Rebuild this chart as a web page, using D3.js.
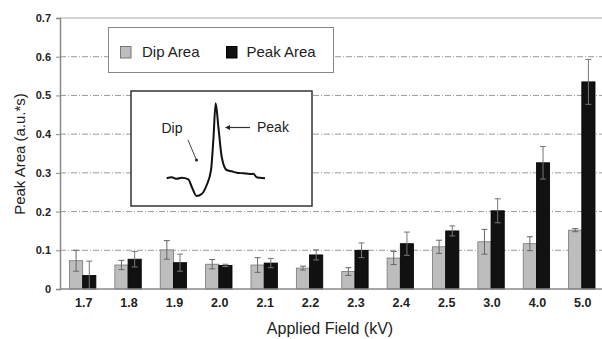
<!DOCTYPE html>
<html>
<head>
<meta charset="utf-8">
<script src="https://cdn.jsdelivr.net/npm/d3@7"></script>
<style>
  html, body { margin: 0; padding: 0; background: #fff; }
  svg { display: block; font-family: Arial, "Liberation Sans", Helvetica, sans-serif; }
</style>
</head>
<body>
<svg id="chart" width="602" height="339"></svg>
<script>
// ---- data ----
const categories = ["1.7","1.8","1.9","2.0","2.1","2.2","2.3","2.4","2.5","3.0","4.0","5.0"];
const dipArea   = [0.073,0.062,0.101,0.064,0.062,0.054,0.045,0.080,0.109,0.122,0.117,0.152];
const dipErr    = [0.027,0.012,0.024,0.012,0.019,0.005,0.010,0.017,0.017,0.032,0.018,0.004];
const peakArea  = [0.035,0.077,0.068,0.061,0.067,0.088,0.100,0.117,0.150,0.202,0.326,0.535];
const peakErr   = [0.037,0.020,0.022,0.003,0.012,0.013,0.019,0.030,0.013,0.031,0.042,0.058];
const yTicks    = [0,0.1,0.2,0.3,0.4,0.5,0.6,0.7];
const seriesNames = ["Dip Area","Peak Area"];
// inset trace (arbitrary time units, relative signal)
const insetTime   = [0,1.5,3,4.5,6.5,7.5,9,10.5,12,13.3,14,14.7,15.5,16.5,18,19.5,21,23,25,26,27,28,29.5];
const insetSignal = [0,0.1,-0.05,0.05,-0.1,-0.84,-1.77,-1.57,-0.67,0.83,3.83,7.5,5.16,2.16,0.83,0.7,0.56,0.5,0.43,0.45,0.1,0.05,0];

// ---- layout ----
const svg = d3.select("#chart");
const x0 = 60, x1 = 604.5, yTop = 18, yBot = 289;

const x = d3.scaleBand().domain(categories).range([x0, x1]).padding(0);
const y = d3.scaleLinear().domain([0, 0.7]).range([yBot, yTop]);
const barW = 13.2;

// gridlines
svg.append("g").selectAll("line")
  .data(yTicks.filter(t => t > 0 && t < 0.7))
  .join("line")
  .attr("x1", x0).attr("x2", 602)
  .attr("y1", d => y(d)).attr("y2", d => y(d))
  .attr("stroke", "#9a9a9a").attr("stroke-width", 1)
  .attr("stroke-dasharray", "6,2,1,2");

// top border line
svg.append("line").attr("x1", x0).attr("x2", 602)
  .attr("y1", y(0.7)).attr("y2", y(0.7))
  .attr("stroke", "#aaa").attr("stroke-width", 1.2);

// y axis
const yAxis = d3.axisLeft(y).tickValues(yTicks)
  .tickFormat(d => d === 0 ? "0" : d3.format(".1f")(d))
  .tickSize(4).tickPadding(5);
const gy = svg.append("g").attr("transform", `translate(${x0},0)`).call(yAxis);
gy.select(".domain").attr("stroke", "#888").attr("stroke-width", 1.5);
gy.selectAll(".tick line").attr("stroke", "#888");
gy.selectAll(".tick text").attr("font-size", 11).attr("font-weight", "bold")
  .attr("fill", "#222").attr("font-family", "Arial, 'Liberation Sans', sans-serif");

// bars
const gBars = svg.append("g");
categories.forEach((c, i) => {
  const cx = x(c) + x.bandwidth() / 2;
  gBars.append("rect")
    .attr("x", cx - barW).attr("width", barW)
    .attr("y", y(dipArea[i])).attr("height", y(0) - y(dipArea[i]))
    .attr("fill", "#bdbdbd").attr("stroke", "#777").attr("stroke-width", 0.8);
  gBars.append("rect")
    .attr("x", cx).attr("width", barW)
    .attr("y", y(peakArea[i])).attr("height", y(0) - y(peakArea[i]))
    .attr("fill", "#111").attr("stroke", "#000").attr("stroke-width", 0.8);
});

// error bars
const gErr = svg.append("g");
function errBar(cx, v, e, color) {
  const yt = y(v + e), yb = y(Math.max(0, v - e));
  gErr.append("line").attr("x1", cx).attr("x2", cx).attr("y1", yt).attr("y2", yb)
    .attr("stroke", color).attr("stroke-width", 1);
  [yt, yb].forEach(yy => gErr.append("line")
    .attr("x1", cx - 3).attr("x2", cx + 3).attr("y1", yy).attr("y2", yy)
    .attr("stroke", color).attr("stroke-width", 1));
}
categories.forEach((c, i) => {
  const cx = x(c) + x.bandwidth() / 2;
  errBar(cx - barW / 2, dipArea[i], dipErr[i], "#666");
  errBar(cx + barW / 2, peakArea[i], peakErr[i], "#777");
});

// x axis line
svg.append("line").attr("x1", x0).attr("x2", 602)
  .attr("y1", yBot).attr("y2", yBot)
  .attr("stroke", "#888").attr("stroke-width", 1.5);

// x tick labels
svg.append("g").selectAll("text").data(categories).join("text")
  .attr("x", d => x(d) + x.bandwidth() / 2 + 1)
  .attr("y", 307)
  .attr("text-anchor", "middle")
  .attr("font-size", 12.5).attr("font-weight", "bold").attr("fill", "#222")
  .text(d => d);

// axis titles
svg.append("text").attr("x", 330).attr("y", 334).attr("text-anchor", "middle")
  .attr("font-size", 16).attr("fill", "#222").text("Applied Field (kV)");
svg.append("text").attr("transform", "translate(25,154) rotate(-90)")
  .attr("text-anchor", "middle").attr("font-size", 15).attr("fill", "#222")
  .text("Peak Area (a.u.*s)");

// legend
const lg = svg.append("g");
lg.append("rect").attr("x", 108.5).attr("y", 27.5).attr("width", 225).attr("height", 45)
  .attr("fill", "#fff").attr("stroke", "#888").attr("stroke-width", 1);
const legendItems = [
  {name: seriesNames[0], fill: "#bdbdbd", stroke: "#777", sx: 120.5, tx: 142},
  {name: seriesNames[1], fill: "#111", stroke: "#000", sx: 226.5, tx: 246.5}
];
legendItems.forEach(it => {
  lg.append("rect").attr("x", it.sx).attr("y", 46.5).attr("width", 10.5).attr("height", 11.5)
    .attr("fill", it.fill).attr("stroke", it.stroke).attr("stroke-width", 1);
  lg.append("text").attr("x", it.tx).attr("y", 57).attr("font-size", 15).attr("fill", "#222")
    .text(it.name);
});

// inset
const ig = svg.append("g");
ig.append("rect").attr("x", 131).attr("y", 91).attr("width", 181).attr("height", 115)
  .attr("fill", "#fff").attr("stroke", "#333").attr("stroke-width", 1.5);
const ix = d3.scaleLinear().domain([0, 29.5]).range([166.7, 265]);
const iy = d3.scaleLinear().domain([0, 7.5]).range([178.3, 103.3]);
ig.append("path")
  .datum(insetTime.map((t, i) => [t, insetSignal[i]]))
  .attr("d", d3.line().x(d => ix(d[0])).y(d => iy(d[1])).curve(d3.curveMonotoneX))
  .attr("fill", "none").attr("stroke", "#111").attr("stroke-width", 2);
ig.append("text").attr("x", 172).attr("y", 133).attr("text-anchor", "middle")
  .attr("font-size", 14).attr("fill", "#222").text("Dip");
ig.append("text").attr("x", 257).attr("y", 132)
  .attr("font-size", 14).attr("fill", "#222").text("Peak");
// arrows
ig.append("line").attr("x1", 188).attr("y1", 140).attr("x2", 196).attr("y2", 159)
  .attr("stroke", "#444").attr("stroke-width", 1);
ig.append("circle").attr("cx", 196.5).attr("cy", 160).attr("r", 1.5).attr("fill", "#222");
ig.append("line").attr("x1", 250).attr("y1", 127.5).attr("x2", 228).attr("y2", 127.5)
  .attr("stroke", "#333").attr("stroke-width", 1.2);
ig.append("path").attr("d", "M225,127.5 L230,125 L230,130 Z").attr("fill", "#222");
</script>
</body>
</html>
